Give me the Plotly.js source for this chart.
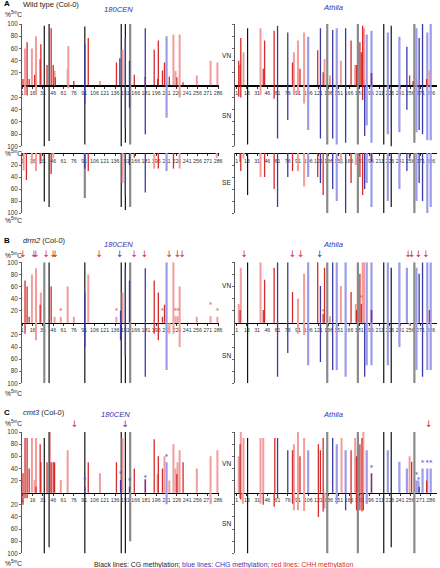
<!DOCTYPE html>
<html><head><meta charset="utf-8">
<script src="https://cdn.plot.ly/plotly-3.0.1.min.js"></script>
<style>html,body{margin:0;padding:0;background:#fff}#chart{width:440px;height:568px}</style>
</head><body><div id="chart"></div>
<script>
// ---------- DATA: [position, % methylation, context] ----------
const tickLabels = [1,16,31,46,61,76,91,106,121,136,151,166,181,196,211,226,241,256,271,286];

// A  Wild type, 180CEN
const aCenVN = [[2,10,'CHH'],[5,60,'CHHl'],[8,70,'CHH'],[11,10,'CHH'],[15,60,'CHHl'],[19,17,'CHH'],[21,80,'CHHl'],[27,43,'CHH'],[28,67,'CHH'],[33,97,'CG'],[37,33,'CHH'],[40,100,'CG'],[43,93,'CHH'],[46,33,'CHH'],[48,24,'CHHl'],[49,13,'CHH'],[67,27,'CHHl'],[68,64,'CHHl'],[76,7,'CHH'],[92,96,'CG'],[92,67,'CHG'],[97,77,'CHH'],[114,7,'CHHl'],[138,37,'CHH'],[143,44,'CHG'],[145,100,'CG'],[147,58,'CHHl'],[151,100,'CG'],[151,77,'CHG'],[157,40,'CHG'],[158,100,'CGg'],[164,17,'CHH'],[180,93,'CHG'],[180,14,'mix'],[193,58,'CHH'],[198,10,'CHH'],[199,73,'CHH'],[205,24,'CHH'],[208,37,'CHH'],[211,80,'CHGl'],[215,14,'CHH'],[221,83,'CHHl'],[224,23,'CHHl'],[226,13,'CHH'],[230,83,'CHHl'],[235,5,'CHH'],[255,16,'CHHl'],[275,40,'CHHl'],[285,37,'CHHl']];
const aCenSN = [[5,16,'CHHl'],[8,17,'CHH'],[21,16,'CHHl'],[33,100,'CG'],[40,91,'CG'],[68,5,'CHHl'],[92,97,'CG'],[92,30,'CHG'],[145,100,'CG'],[151,94,'CG'],[151,70,'CHG'],[157,37,'CHG'],[158,97,'CGg'],[180,80,'CHG'],[211,53,'CHGl'],[230,20,'CHHl']];
const aCenSE = [[3,29,'CHHl'],[7,45,'CHH'],[15,18,'CHHl'],[21,30,'CHHl'],[27,18,'CHH'],[28,12,'CHHl'],[33,81,'CG'],[40,90,'CG'],[43,35,'CHH'],[46,9,'CHHl'],[92,75,'CGg'],[92,26,'CHG'],[97,30,'CHH'],[145,90,'CG'],[147,50,'CHHl'],[151,95,'CG'],[151,70,'CHG'],[157,20,'CHG'],[158,90,'CGg'],[164,8,'CHH'],[180,66,'CHG'],[193,26,'CHHl'],[199,26,'CHH'],[211,30,'CHGl'],[221,26,'CHH'],[230,26,'CHHl'],[284,8,'CHHl']];

// A  Wild type, Athila
const aAthVN = [[4,40,'CHH'],[6,33,'CHH'],[7,77,'CHH'],[11,54,'CHHl'],[17,93,'CG'],[36,93,'CHHl'],[40,27,'CHH'],[42,73,'CHH'],[56,89,'CHH'],[61,97,'CHG'],[76,86,'CHG'],[83,37,'CHH'],[85,54,'CHHl'],[91,73,'CHHl'],[94,27,'CHH'],[100,86,'CHHl'],[106,79,'CHGl'],[120,57,'CHH'],[124,93,'CHG'],[128,21,'CHH'],[130,43,'CHHl'],[134,100,'CGg'],[138,16,'CHHl'],[142,90,'CHG'],[148,93,'CHGl'],[154,40,'CHHl'],[161,93,'CHG'],[169,73,'CHH'],[175,33,'CHHl'],[177,33,'CHH'],[179,100,'CGg'],[182,70,'CHH'],[184,54,'CHH'],[186,97,'CHH'],[188,93,'CHHl'],[192,83,'CHGl'],[199,89,'CHGl'],[199,20,'mix'],[217,100,'CG'],[223,86,'CHGl'],[228,97,'CG'],[240,79,'CHGl'],[251,63,'CHG'],[255,16,'CHH'],[260,7,'CHH'],[262,100,'CGg'],[265,93,'CHGl'],[268,10,'mixl'],[269,77,'CHG'],[274,100,'CHG'],[280,10,'CHH'],[281,86,'CHGl'],[284,24,'CHHl'],[286,100,'CHGl']];
const aAthSN = [[4,19,'CHH'],[7,20,'CHH'],[17,97,'CG'],[36,16,'CHHl'],[56,22,'CHH'],[61,87,'CHG'],[76,57,'CHG'],[85,16,'CHHl'],[91,16,'CHHl'],[100,30,'CHHl'],[106,73,'CHGl'],[124,87,'CHG'],[134,97,'CGg'],[142,87,'CHG'],[148,97,'CHGl'],[161,94,'CHG'],[179,97,'CGg'],[186,24,'CHH'],[189,83,'CHG'],[192,66,'CHGl'],[199,94,'CHGl'],[217,97,'CG'],[223,80,'CHGl'],[228,100,'CG'],[240,77,'CHGl'],[251,40,'CHG'],[262,94,'CGg'],[265,77,'CHGl'],[269,73,'CHG'],[274,80,'CHG'],[281,90,'CHGl'],[286,90,'CHGl']];
const aAthSE = [[6,15,'CHH'],[7,30,'CHH'],[11,9,'CHHl'],[17,70,'CG'],[36,40,'CHHl'],[42,40,'CHH'],[56,60,'CHH'],[61,90,'CHG'],[76,40,'CHG'],[83,30,'CHH'],[91,30,'CHHl'],[100,56,'CHHl'],[106,40,'CHGl'],[120,40,'CHH'],[124,50,'CHG'],[128,70,'CHH'],[134,100,'CGg'],[142,60,'CHG'],[148,80,'CHGl'],[154,18,'CHHl'],[161,100,'CHG'],[169,50,'CHH'],[176,20,'CHHl'],[179,100,'CGg'],[182,40,'CHH'],[186,70,'CHH'],[189,60,'CHG'],[192,50,'CHGl'],[199,90,'CHGl'],[199,15,'mix'],[217,100,'CG'],[223,80,'CHGl'],[228,90,'CG'],[240,60,'CHGl'],[251,30,'CHG'],[255,9,'mix'],[262,100,'CGg'],[265,80,'CHGl'],[269,50,'CHG'],[274,80,'CHG'],[281,100,'CHGl'],[286,90,'CHGl']];

// B  drm2, 180CEN
const bCenVN = [[5,70,'CHH'],[8,60,'CHH'],[11,10,'CHH'],[15,80,'CHHl'],[21,90,'CHHl'],[27,30,'CHH'],[28,50,'CHHl'],[33,100,'CGg'],[40,100,'CG'],[43,60,'CHH'],[48,10,'CHHl'],[57,10,'CHHl'],[67,60,'CHHl'],[76,10,'CHHl'],[92,100,'CG'],[92,50,'CHG'],[97,80,'CHHl'],[138,10,'CHHl'],[144,20,'CHG'],[145,100,'CG'],[147,50,'CHHl'],[151,100,'CG'],[151,90,'CHG'],[157,70,'CHG'],[158,100,'CGg'],[180,90,'CHG'],[193,70,'CHH'],[199,50,'CHH'],[205,10,'CHH'],[208,30,'CHH'],[211,100,'CHGl'],[221,100,'CHHl'],[224,11,'CHHl'],[227,11,'CHHl'],[230,60,'CHHl'],[255,10,'CHHl'],[275,11,'CHHl'],[285,10,'CHHl']];
const bCenSN = [[5,18,'CHH'],[21,29,'CHHl'],[33,100,'CGg'],[40,100,'CG'],[92,100,'CG'],[92,40,'CHG'],[144,29,'CHG'],[145,100,'CG'],[151,100,'CG'],[151,55,'CHG'],[158,100,'CGg'],[180,89,'CHG'],[193,18,'CHH'],[199,29,'CHH'],[211,78,'CHGl'],[215,18,'CHHl'],[221,18,'CHHl'],[230,40,'CHHl']];
const bCenArrowsCHH = [2,18,21,36,46,49,113,164,179,215,227,234];
const bCenArrowsCHG = [143];
const bCenStars = [[57,19],[138,19],[205,19],[224,19],[228,19],[275,29],[285,19]];

// B  drm2, Athila
const bAthVN = [[4,31,'CHHl'],[6,21,'CHH'],[7,91,'CHHl'],[17,100,'CG'],[36,100,'CHHl'],[40,21,'CHH'],[42,71,'CHH'],[56,91,'CHH'],[61,100,'CHG'],[76,100,'CHG'],[83,51,'CHH'],[91,40,'CHHl'],[100,81,'CHHl'],[106,100,'CHGl'],[120,100,'CHH'],[124,61,'CHG'],[128,15,'CHH'],[130,91,'CHH'],[134,100,'CGg'],[138,11,'CHHl'],[142,100,'CHG'],[148,100,'CHGl'],[154,61,'CHHl'],[161,100,'CHGl'],[169,51,'CHH'],[176,31,'CHHl'],[177,21,'CHH'],[179,100,'CGg'],[182,81,'CHH'],[184,31,'CHH'],[186,100,'CHHl'],[188,100,'CHHl'],[192,100,'CHGl'],[199,100,'CHGl'],[199,21,'mix'],[217,100,'CG'],[223,100,'CHGl'],[228,91,'CG'],[240,100,'CHGl'],[251,91,'CHGl'],[262,100,'CGg'],[265,91,'CHGl'],[269,81,'CHG'],[274,100,'CHG'],[281,100,'CHGl'],[284,21,'CHH'],[286,100,'CHGl']];
const bAthSN = [[17,100,'CG'],[61,89,'CHG'],[76,50,'CHG'],[91,18,'CHHl'],[100,20,'CHHl'],[106,70,'CHGl'],[124,65,'CHG'],[134,100,'CGg'],[142,78,'CHG'],[148,78,'CHGl'],[161,89,'CHGl'],[179,100,'CGg'],[189,89,'CHG'],[192,70,'CHGl'],[199,70,'CHGl'],[217,100,'CG'],[223,70,'CHGl'],[228,100,'CG'],[240,40,'CHGl'],[255,5,'CHHl'],[262,100,'CGg'],[265,78,'CHGl'],[274,89,'CHG'],[281,78,'CHGl'],[286,78,'CHGl']];
const bAthArrowsCHH = [12,83,95,253,258,268,279];
const bAthArrowsCHG = [123];
const bAthStars = [[128,18],[184,40]];

// C  cmt3, 180CEN
const cCenVN = [[2,32,'CHH'],[5,90,'CHH'],[8,90,'CHH'],[11,40,'CHH'],[15,90,'CHHl'],[19,21,'CHHl'],[21,90,'CHHl'],[21,10,'CHH'],[27,80,'CHH'],[28,50,'CHH'],[33,90,'CG'],[37,50,'CHH'],[40,100,'CG'],[41,100,'CHH'],[43,50,'CHH'],[46,50,'CHH'],[48,50,'CHH'],[57,21,'CHHl'],[67,70,'CHHl'],[92,100,'CG'],[92,10,'CHG'],[97,50,'CHH'],[114,32,'CHHl'],[138,50,'CHH'],[144,21,'CHG'],[145,100,'CG'],[147,90,'CHHl'],[151,100,'CG'],[157,10,'CHG'],[158,100,'CGg'],[164,40,'CHH'],[180,22,'mix'],[193,88,'CHH'],[198,31,'CHHl'],[199,60,'CHH'],[205,40,'CHH'],[208,60,'CHHl'],[211,50,'CHGl'],[215,20,'CHHl'],[221,80,'CHHl'],[224,40,'CHHl'],[226,31,'CHH'],[227,50,'CHHl'],[230,70,'CHHl'],[235,50,'CHH'],[255,40,'CHHl'],[275,60,'CHHl'],[285,70,'CHHl']];
const cCenSN = [[2,20,'CHH'],[5,9,'CHH'],[8,9,'CHH'],[33,100,'CG'],[40,90,'CG'],[92,100,'CG'],[145,100,'CG'],[151,100,'CG'],[158,80,'CGg'],[211,19,'CHGl'],[275,19,'CHHl']];
const cCenArrowsCHH = [77];
const cCenArrowsCHG = [151];
const cCenStars = [[92,20],[144,30],[157,19],[180,24],[211,58]];

// C  cmt3, Athila
const cAthVN = [[4,60,'CHHl'],[6,80,'CHH'],[7,100,'CHHl'],[11,90,'CHHl'],[17,90,'CG'],[36,90,'CHHl'],[40,90,'CHHl'],[57,90,'CHH'],[61,90,'CHG'],[76,70,'CHG'],[83,70,'CHH'],[85,80,'CHHl'],[91,100,'CHHl'],[94,60,'CHH'],[100,90,'CHHl'],[106,70,'CHGl'],[121,80,'CHH'],[124,70,'CHH'],[128,90,'CHH'],[134,100,'CGg'],[142,90,'CHG'],[148,80,'CHGl'],[155,90,'CHHl'],[161,70,'CHGl'],[169,70,'CHH'],[175,90,'CHHl'],[177,60,'CHH'],[179,100,'CGg'],[182,80,'CHH'],[185,90,'CHH'],[187,100,'CHHl'],[192,70,'CHGl'],[199,32,'mix'],[217,100,'CG'],[223,70,'CHGl'],[228,100,'CG'],[240,51,'CHGl'],[251,40,'CHGl'],[255,60,'CHHl'],[258,51,'CHH'],[262,100,'CGg'],[265,20,'CHGl'],[268,20,'CHGl'],[269,10,'CHG'],[274,40,'CHGl'],[280,20,'CHH'],[281,40,'CHGl'],[286,40,'CHGl']];
const cAthSN = [[6,9,'CHH'],[7,11,'CHH'],[10,18,'CHHl'],[17,100,'CG'],[36,18,'CHHl'],[40,20,'CHH'],[56,23,'CHH'],[61,9,'CHG'],[83,18,'CHH'],[85,29,'CHHl'],[91,29,'CHHl'],[100,30,'CHHl'],[121,40,'CHH'],[128,31,'CHH'],[130,26,'CHHl'],[134,100,'CGg'],[148,18,'CHGl'],[161,29,'CHG'],[169,18,'CHH'],[177,29,'CHH'],[179,100,'CGg'],[182,29,'CHH'],[185,31,'CHH'],[187,29,'CHH'],[192,18,'CHGl'],[217,100,'CG'],[228,90,'CG'],[262,100,'CGg']];
const cAthArrowsCHH = [283];
const cAthStars = [[199,40],[265,29],[268,21],[274,48],[281,48],[286,48]];

// ---------- DRAWING ----------
const W = 440, H = 568;
const FONT = 'Liberation Sans, Arial, Helvetica, sans-serif';
const fx = p => p / W, fy = p => 1 - p / H;
const STY = {
  CGg:{c:'#8a8a8a',w:2.2}, CG:{c:'#141414',w:1.2},
  CHGl:{c:'#9c9ce8',w:2.2}, CHHl:{c:'#f29c9c',w:2.0},
  CHG:{c:'#3a3aa6',w:1.3}, CHH:{c:'#d42b2b',w:1.3},
  mixl:{c:'#b48ad6',w:1.8}, mix:{c:'#8b2a80',w:1.6}
};
const ORDER = ['CGg','CG','CHGl','CHHl','CHG','CHH','mixl','mix'];
const LEFT = {dom:[22/W, 219/W], range:[0.56, 287.3], labels:true};
const RIGHT = {dom:[235/W, 436.5/W], range:[-1.5, 294.5], labels:false};
// subplot geometry in pixels (top of 100 %, zero line, bottom)
const subplots = [
  {side:LEFT,  top:24,    zero:85.2,  bot:146.4, halves:[[aCenVN,1],[aCenSN,-1]]},
  {side:LEFT,  top:153,   zero:153,   bot:213,   halves:[[aCenSE,-1]]},
  {side:RIGHT, top:24,    zero:85.2,  bot:146.4, halves:[[aAthVN,1],[aAthSN,-1]]},
  {side:RIGHT, top:153,   zero:153,   bot:213,   halves:[[aAthSE,-1]]},
  {side:LEFT,  top:262.3, zero:322.8, bot:383.3, halves:[[bCenVN,1],[bCenSN,-1]]},
  {side:RIGHT, top:262.3, zero:322.8, bot:383.3, halves:[[bAthVN,1],[bAthSN,-1]]},
  {side:LEFT,  top:432,   zero:492.7, bot:553.4, halves:[[cCenVN,1],[cCenSN,-1]]},
  {side:RIGHT, top:432,   zero:492.7, bot:553.4, halves:[[cAthVN,1],[cAthSN,-1]]}
];

const traces = [];
const layout = {
  width: W, height: H, autosize: false,
  margin: {l:0, r:0, t:0, b:0, pad:0},
  paper_bgcolor: '#fff', plot_bgcolor: 'rgba(0,0,0,0)',
  showlegend: false, font: {family: FONT, color: '#222'},
  annotations: []
};

subplots.forEach((sp, i) => {
  const k = i + 1, sfx = k > 1 ? String(k) : '';
  const se = sp.top === sp.zero;
  sp.halves.forEach(([rows, sign]) => {
    ORDER.forEach(c => {
      const xs = [], ys = [];
      rows.forEach(r => { if (r[2] === c) { xs.push(r[0], r[0], null); ys.push(0, sign * r[1], null); } });
      if (xs.length) traces.push({type:'scatter', mode:'lines', x:xs, y:ys, xaxis:'x'+sfx, yaxis:'y'+sfx,
        line:{color:STY[c].c, width:STY[c].w}, hoverinfo:'skip', showlegend:false});
    });
  });
  const yv = se ? [-100,-80,-60,-40,-20] : [-100,-80,-60,-40,-20,20,40,60,80,100];
  layout['xaxis'+sfx] = {
    domain: sp.side.dom, range: sp.side.range, anchor: 'free', position: fy(sp.zero),
    showline: true, linecolor: '#000', linewidth: 1.3, zeroline: false, showgrid: false,
    tickvals: tickLabels, ticktext: tickLabels.map(String), ticks: 'outside', ticklen: 2,
    tickwidth: 0.8, tickcolor: '#000', tickfont: {size: 5.3, color: '#333', family: FONT},
    tickangle: 0, layer: 'below traces', fixedrange: true
  };
  layout['yaxis'+sfx] = {
    domain: [fy(sp.bot), fy(sp.top)], range: se ? [-100, 0] : [-100, 100], anchor: 'x'+sfx,
    showline: true, linecolor: '#444', linewidth: 0.9, zeroline: false, showgrid: false,
    tickvals: yv, ticktext: yv.map(v => String(Math.abs(v))), ticks: 'outside', ticklen: 2,
    tickwidth: 0.8, tickcolor: '#444', showticklabels: sp.side.labels,
    tickfont: {size: 6.3, color: '#333', family: FONT}, fixedrange: true
  };
});

// invisible taller y axes (same scale) so that the arrows above 100 % stay drawn
const markAxis = {};
[5,6,7,8].forEach((k, j) => {
  const sp = subplots[k-1], n = 9 + j, ext = 20;
  const scale = (sp.zero - sp.top) / 100;
  layout['yaxis'+n] = {domain:[fy(sp.bot), fy(sp.top - ext)], range:[-100, 100 + ext/scale],
    anchor:'x'+k, visible:false, showgrid:false, zeroline:false, fixedrange:true};
  markAxis[k] = 'y'+n;
});

function addText(xv, yv, k, txt, color, size) {
  traces.push({type:'scatter', mode:'text', x:xv, y:yv, text:xv.map(() => txt),
    textposition:'middle center', textfont:{size:size, color:color, family:'DejaVu Sans, sans-serif'},
    xaxis:'x'+k, yaxis:markAxis[k], cliponaxis:false, hoverinfo:'skip', showlegend:false});
}
const RED = '#d42b2b', BLUE = '#3a3ad0';
const up = a => a.map(() => 112);
addText(bCenArrowsCHH, up(bCenArrowsCHH), 5, '↓', RED, 9);
addText(bCenArrowsCHG, up(bCenArrowsCHG), 5, '↓', BLUE, 9);
addText(bAthArrowsCHH, up(bAthArrowsCHH), 6, '↓', RED, 9);
addText(bAthArrowsCHG, up(bAthArrowsCHG), 6, '↓', BLUE, 9);
addText(cCenArrowsCHH, up(cCenArrowsCHH), 7, '↓', RED, 9);
addText(cCenArrowsCHG, up(cCenArrowsCHG), 7, '↓', BLUE, 9);
addText(cAthArrowsCHH, up(cAthArrowsCHH), 8, '↓', RED, 9);
addText(bCenStars.map(s => s[0]), bCenStars.map(s => s[1]), 5, '*', '#e05a5a', 7);
addText(bAthStars.map(s => s[0]), bAthStars.map(s => s[1]), 6, '*', '#e05a5a', 7);
addText(cCenStars.map(s => s[0]), cCenStars.map(s => s[1]), 7, '*', '#4a4ad8', 7);
addText(cAthStars.map(s => s[0]), cAthStars.map(s => s[1]), 8, '*', '#4a4ad8', 7);

// text labels
function ann(text, px, py, opts) {
  layout.annotations.push(Object.assign({text:text, x:fx(px), y:fy(py), xref:'paper', yref:'paper',
    showarrow:false, xanchor:'left', yanchor:'middle', font:{size:7.5, color:'#222', family:FONT}}, opts || {}));
}
const PCT = '%<sup>5m</sup>C';
const blueTitle = {xanchor:'center', font:{size:7.6, color:'#3333b0', family:FONT}};
ann('<b>A</b>', 2, 4, {font:{size:8, color:'#000', family:FONT}});
ann('Wild type (Col-0)', 21, 4.5);
ann('<i>180CEN</i>', 118, 9.8, blueTitle);
ann('<i>Athila</i>', 333, 7.8, blueTitle);
ann('<b>B</b>', 2, 240.5, {font:{size:8, color:'#000', family:FONT}});
ann('<i>drm2</i> (Col-0)', 21, 240.5);
ann('<i>180CEN</i>', 118, 245, blueTitle);
ann('<i>Athila</i>', 333, 244.5, blueTitle);
ann('<b>C</b>', 2, 412.3, {font:{size:8, color:'#000', family:FONT}});
ann('<i>cmt3</i> (Col-0)', 21, 412.5);
ann('<i>180CEN</i>', 116, 414.5, blueTitle);
ann('<i>Athila</i>', 332.5, 414.5, blueTitle);
[14.5, 153, 220, 254.7, 392.7, 423, 562.8].forEach(py => ann(PCT, 3, py, {font:{size:6.6, color:'#222', family:FONT}}));
const rowLab = {xanchor:'center', font:{size:6.6, color:'#222', family:FONT}};
ann('VN', 227, 55, rowLab); ann('SN', 227, 115, rowLab); ann('SE', 227, 183, rowLab);
ann('VN', 227, 285.5, rowLab); ann('SN', 227, 355, rowLab);
ann('VN', 227, 463.3, rowLab); ann('SN', 227, 523.5, rowLab);
ann('<span style="color:#1a1a1a">Black lines: CG methylation;</span> <span style="color:#3535c0">blue lines: CHG methylation;</span> <span style="color:#dd2a2a">red lines: CHH methylation</span>',
  223.5, 565, {xanchor:'center', font:{size:6.9, color:'#222', family:FONT}});

Plotly.newPlot('chart', traces, layout, {staticPlot:true, displayModeBar:false});
</script></body></html>
